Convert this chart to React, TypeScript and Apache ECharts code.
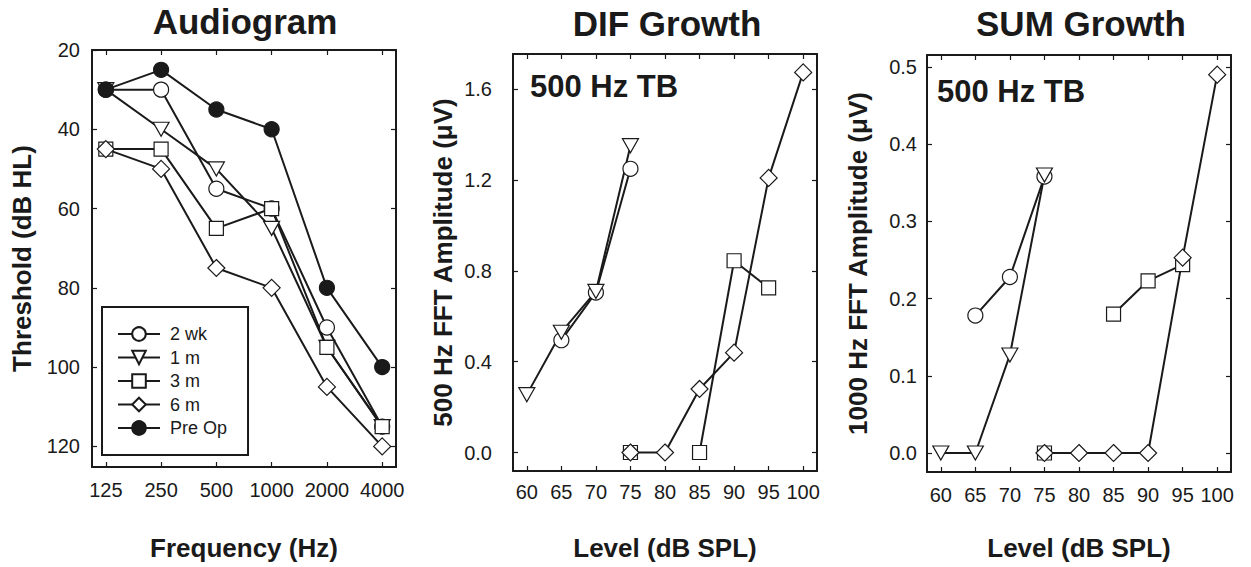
import React, { useEffect, useRef } from 'react';
import * as echarts from 'echarts';

// ---------- data ----------
const freqLabels = ['125', '250', '500', '1000', '2000', '4000'];
const freqIdx = [0, 1, 2, 3, 4, 5];
const aud2wk = [30, 30, 55, 60, 90, 115];
const aud1m = [30, 40, 50, 65, 95, 115];
const aud3m = [45, 45, 65, 60, 95, 115];
const aud6m = [45, 50, 75, 80, 105, 120];
const audPreOp = [30, 25, 35, 40, 80, 100];
const audTicks = [20, 40, 60, 80, 100, 120];

const levels = [60, 65, 70, 75, 80, 85, 90, 95, 100];
const dif2wk = [null, 0.495, 0.705, 1.25, null, null, null, null, null];
const dif1m = [0.255, 0.53, 0.71, 1.352, null, null, null, null, null];
const dif3m = [null, null, null, 0, null, 0, 0.845, 0.725, null];
const dif6m = [null, null, null, 0, 0, 0.28, 0.44, 1.21, 1.675];
const difTicks = [0, 0.4, 0.8, 1.2, 1.6];

const sum2wk = [null, 0.178, 0.228, 0.358, null, null, null, null, null];
const sum1m = [0, 0, 0.127, 0.36, null, null, null, null, null];
const sum3m = [null, null, null, 0, null, 0.18, 0.223, 0.244, null];
const sum6m = [null, null, null, 0, 0, 0, 0, 0.253, 0.49];
const sumTicks = [0, 0.1, 0.2, 0.3, 0.4, 0.5];

const seriesNames = ['2 wk', '1 m', '3 m', '6 m', 'Pre Op'];

// ---------- style ----------
const INK = '#1a1a1a';
const FONT = '"Liberation Sans", Arial, Helvetica, sans-serif';

const SYM: Record<string, { symbol: string; size: any; fill: string }> = {
  '2 wk': { symbol: 'circle', size: 15, fill: '#ffffff' },
  '1 m': { symbol: 'path://M0,0L20,0L10,17Z', size: [16, 14], fill: '#ffffff' },
  '3 m': { symbol: 'rect', size: 14, fill: '#ffffff' },
  '6 m': { symbol: 'diamond', size: 17, fill: '#ffffff' },
  'Pre Op': { symbol: 'circle', size: 15, fill: INK },
};

function mkSeries(name: string, xs: number[], ys: (number | null)[], ai: number) {
  const s = SYM[name];
  return {
    type: 'line',
    name,
    xAxisIndex: ai,
    yAxisIndex: ai,
    data: xs.map((x, i) => (ys[i] == null ? [x, '-'] : [x, ys[i]])),
    symbol: s.symbol,
    symbolSize: s.size,
    showAllSymbol: true,
    connectNulls: false,
    lineStyle: { color: INK, width: 2 },
    itemStyle: { color: s.fill, borderColor: INK, borderWidth: 1.2 },
    emphasis: { disabled: true },
  };
}

const NAME_STYLE = { fontSize: 26, fontWeight: 'bold', color: INK, fontFamily: FONT };

function bottomAxis(grid: number, min: number, max: number, ticks: number[], fmt: (v: number) => string, name: string, nameGap: number, margin: number) {
  return {
    type: 'value', gridIndex: grid, position: 'bottom', min, max,
    axisLine: { onZero: false, lineStyle: { color: INK, width: 2 } },
    axisTick: { inside: true, length: 5, customValues: ticks, lineStyle: { color: INK, width: 1.2 } },
    axisLabel: { customValues: ticks, formatter: fmt, fontSize: 20, color: INK, fontFamily: FONT, margin },
    splitLine: { show: false },
    name, nameLocation: 'middle', nameGap,
    nameTextStyle: NAME_STYLE,
  };
}
function topAxis(grid: number, min: number, max: number, ticks: number[]) {
  return {
    type: 'value', gridIndex: grid, position: 'top', min, max,
    axisLine: { onZero: false, lineStyle: { color: INK, width: 2 } },
    axisTick: { inside: true, length: 5, customValues: ticks, lineStyle: { color: INK, width: 1.2 } },
    axisLabel: { show: false },
    splitLine: { show: false },
  };
}
function leftAxis(grid: number, min: number, max: number, ticks: number[], fmt: (v: number) => string, name: string, nameGap: number, margin: number, inverse = false) {
  return {
    type: 'value', gridIndex: grid, position: 'left', min, max, inverse,
    axisLine: { onZero: false, lineStyle: { color: INK, width: 2 } },
    axisTick: { inside: true, length: 5, customValues: ticks, lineStyle: { color: INK, width: 1.2 } },
    axisLabel: { customValues: ticks, formatter: fmt, fontSize: 20, color: INK, fontFamily: FONT, margin },
    splitLine: { show: false },
    name, nameLocation: 'middle', nameGap, nameRotate: 90,
    nameTextStyle: NAME_STYLE,
  };
}
function rightAxis(grid: number, min: number, max: number, ticks: number[], inverse = false) {
  return {
    type: 'value', gridIndex: grid, position: 'right', min, max, inverse,
    axisLine: { onZero: false, lineStyle: { color: INK, width: 2 } },
    axisTick: { inside: true, length: 5, customValues: ticks, lineStyle: { color: INK, width: 1.2 } },
    axisLabel: { show: false },
    splitLine: { show: false },
  };
}

export default function App() {
  const ref = useRef<HTMLDivElement>(null);
  useEffect(() => {
    if (!ref.current) return;
    const chart = echarts.init(ref.current, null, { renderer: 'svg' });
    const f1 = (v: number) => v.toFixed(1);
    const titleStyle = { fontSize: 35, fontWeight: 'bold', fill: INK, fontFamily: FONT, align: 'center', verticalAlign: 'middle' };
    const tbStyle = { fontSize: 31, fontWeight: 'bold', fill: INK, fontFamily: FONT, align: 'left', verticalAlign: 'middle' };
    const option = {
      animation: false,
      backgroundColor: '#ffffff',
      textStyle: { fontFamily: FONT },
      grid: [
        { left: 92, top: 50, width: 304, height: 417 },
        { left: 513, top: 54, width: 304, height: 417 },
        { left: 927, top: 55, width: 304, height: 417 },
      ],
      xAxis: [
        bottomAxis(0, -0.25, 5.25, freqIdx, (v: number) => freqLabels[Math.round(v)], 'Frequency (Hz)', 68, 13),
        bottomAxis(1, 58, 102, levels, (v: number) => String(v), 'Level (dB SPL)', 64, 11),
        bottomAxis(2, 58, 102, levels, (v: number) => String(v), 'Level (dB SPL)', 63, 13),
        topAxis(0, -0.25, 5.25, freqIdx),
        topAxis(1, 58, 102, levels),
        topAxis(2, 58, 102, levels),
      ],
      yAxis: [
        leftAxis(0, 20, 125.2, audTicks, (v: number) => String(v), 'Threshold (dB HL)', 57, 12, true),
        leftAxis(1, -0.0815, 1.756, difTicks, f1, '500 Hz FFT Amplitude (\u03BCV)', 57, 21),
        leftAxis(2, -0.0246, 0.5155, sumTicks, f1, '1000 Hz FFT Amplitude (\u03BCV)', 56, 10),
        rightAxis(0, 20, 125.2, audTicks, true),
        rightAxis(1, -0.0815, 1.756, difTicks),
        rightAxis(2, -0.0246, 0.5155, sumTicks),
      ],
      legend: {
        data: seriesNames,
        orient: 'vertical',
        left: 102, top: 307,
        itemWidth: 42, itemHeight: 17, itemGap: 5.5,
        padding: [18, 21, 18, 15],
        borderColor: INK, borderWidth: 2, borderRadius: 0,
        selectedMode: false,
        textStyle: { fontSize: 18, color: INK, fontFamily: FONT, padding: [0, 0, 0, 5] },
      },
      graphic: [
        { type: 'text', x: 245, y: 21, style: { ...titleStyle, text: 'Audiogram' } },
        { type: 'text', x: 667, y: 23, style: { ...titleStyle, text: 'DIF Growth' } },
        { type: 'text', x: 1081, y: 23, style: { ...titleStyle, text: 'SUM Growth' } },
        { type: 'text', x: 530, y: 86, style: { ...tbStyle, text: '500 Hz TB' } },
        { type: 'text', x: 937, y: 91, style: { ...tbStyle, text: '500 Hz TB' } },
      ],
      series: [
        mkSeries('2 wk', freqIdx, aud2wk, 0),
        mkSeries('1 m', freqIdx, aud1m, 0),
        mkSeries('3 m', freqIdx, aud3m, 0),
        mkSeries('6 m', freqIdx, aud6m, 0),
        mkSeries('Pre Op', freqIdx, audPreOp, 0),
        mkSeries('2 wk', levels, dif2wk, 1),
        mkSeries('1 m', levels, dif1m, 1),
        mkSeries('3 m', levels, dif3m, 1),
        mkSeries('6 m', levels, dif6m, 1),
        mkSeries('2 wk', levels, sum2wk, 2),
        mkSeries('1 m', levels, sum1m, 2),
        mkSeries('3 m', levels, sum3m, 2),
        mkSeries('6 m', levels, sum6m, 2),
      ],
    };
    chart.setOption(option as any);
    return () => chart.dispose();
  }, []);
  return (
    <div
      ref={ref}
      style={{ position: 'fixed', left: 0, top: 0, width: 1251, height: 567, background: '#fff' }}
    />
  );
}
